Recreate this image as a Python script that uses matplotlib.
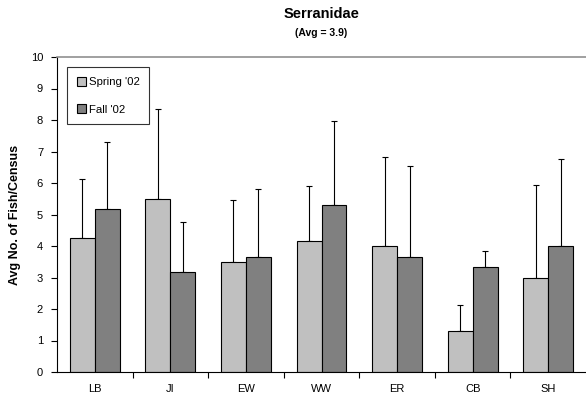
import matplotlib
matplotlib.use("Agg")
import matplotlib.pyplot as plt
import numpy as np

plt.rcParams['font.family'] = ['Liberation Sans', 'DejaVu Sans']

sites = ["LB", "JI", "EW", "WW", "ER", "CB", "SH"]
spring = [4.25, 5.5, 3.5, 4.17, 4.0, 1.31, 3.0]
spring_err = [1.89, 2.86, 1.95, 1.72, 2.82, 0.83, 2.95]
fall = [5.17, 3.16, 3.66, 5.31, 3.65, 3.33, 4.0]
fall_err = [2.12, 1.6, 2.16, 2.66, 2.88, 0.52, 2.75]
yticks = list(range(0, 11))

fig = plt.figure(figsize=(5.86, 4.0), dpi=100)
ax = fig.add_axes([57/586, 1-372/400, 1-57/586, (372-57)/400])

x = np.arange(len(sites))
w = 0.33
ax.bar(x - w/2, spring, w, color="#c0c0c0", edgecolor="black", linewidth=0.8,
       label="Spring '02", zorder=2)
ax.bar(x + w/2, fall, w, color="#808080", edgecolor="black", linewidth=0.8,
       label="Fall '02", zorder=2)
ax.errorbar(x - w/2, spring, yerr=[np.zeros(len(spring)), spring_err], fmt="none",
            ecolor="black", elinewidth=0.8, capsize=2.2, capthick=0.8, zorder=1)
ax.errorbar(x + w/2, fall, yerr=[np.zeros(len(fall)), fall_err], fmt="none",
            ecolor="black", elinewidth=0.8, capsize=2.2, capthick=0.8, zorder=1)

ax.set_xlim(-0.5, len(sites) - 0.5)
ax.set_ylim(0, 10)
ax.set_yticks(yticks)
ax.set_yticklabels([str(t) for t in yticks], fontsize=8)
ax.set_xticks(x)
ax.set_xticklabels(sites, fontsize=8)
ax.tick_params(axis='x', length=0, pad=9)
ax.set_xticks(np.arange(len(sites) - 1) + 0.5, minor=True)
ax.tick_params(axis='x', which='minor', length=4, direction='out', width=0.8)
ax.tick_params(axis='y', length=4, direction='out', width=0.8, pad=6)

ax.spines['right'].set_visible(False)
ax.spines['top'].set_color("#909090")
ax.spines['top'].set_linewidth(1.2)
ax.spines['left'].set_linewidth(0.8)
ax.spines['bottom'].set_linewidth(0.8)

ax.set_ylabel("Avg No. of Fish/Census", fontsize=9, fontweight='bold', labelpad=7)

fig.text(0.5 + 57/586/2, 1-14/400, "Serranidae", ha='center', va='center',
         fontsize=10.5, fontweight='bold')
fig.text(0.5 + 57/586/2, 1-33/400, "(Avg = 3.9)", ha='center', va='center',
         fontsize=7.5, fontweight='bold')

leg = ax.legend(loc='upper left', bbox_to_anchor=(0.008, 0.985), fontsize=8.2,
                frameon=True, fancybox=False, edgecolor='black',
                handlelength=0.8, handleheight=0.8, handletextpad=0.25,
                labelspacing=1.5, borderpad=0.85)
leg.get_frame().set_linewidth(0.8)

fig.savefig("out.png", dpi=100)
